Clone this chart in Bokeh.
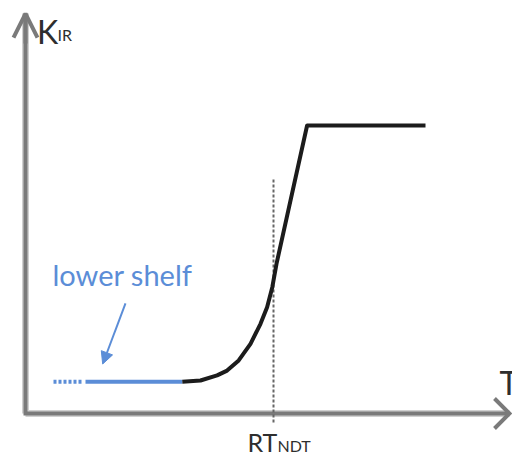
from bokeh.plotting import figure
from bokeh.models import Range1d, Label, Arrow, OpenHead, NormalHead
from bokeh.embed import file_html
from bokeh.resources import INLINE

# ---- data (schematic units: T along x, K_IR along y) ----
shelf_dash_T = [7.0, 14.5]
shelf_dash_K = [10.6, 10.6]
shelf_T = [15.0, 39.2]
shelf_K = [10.6, 10.6]
curve_T = [39.2, 43.75, 47.9, 50.4, 53.3, 56.25, 58.75, 60.4, 61.7, 62.75, 70.4, 100.0]
curve_K = [10.6, 11.0, 12.7, 14.3, 17.7, 23.2, 29.9, 35.4, 42.1, 49.9, 96.0, 96.0]
rt_ndt_T = 62.0
rt_line_K = [78.0, -3.3]
axis_T_max = 121.0
axis_K_max = 133.3

y_label_main, y_label_sub = "K", "IR"
x_label = "T"
rt_label_main, rt_label_sub = "RT", "NDT"
shelf_label = "lower shelf"
pointer_start = (25.0, 36.7)
pointer_end = (19.3, 16.5)

BLUE = "#5b8dd7"
BLACK = "#1c1c1c"
GRAY = "#7a7a7a"
TEXT = "#2e2e2e"
FONT = "Lato"

W, H = 512, 471
p = figure(width=W, height=H, output_backend="svg", toolbar_location=None,
           x_range=Range1d(-6.25, 121.75), y_range=Range1d(-19.33, 137.67),
           min_border=0, outline_line_color=None)
p.axis.visible = False
p.grid.visible = False
p.background_fill_color = "white"

# axes with soft shadow look
p.line([0, 0], [0, axis_K_max], line_color="#d0d0d0", line_width=7)
p.line([0, axis_T_max], [0, 0], line_color="#d0d0d0", line_width=7)
p.line([0, 0, axis_T_max], [axis_K_max, 0, 0], line_color=GRAY, line_width=4, line_join="miter")
p.add_layout(Arrow(end=OpenHead(size=24, line_color=GRAY, line_width=4),
                   x_start=0, y_start=axis_K_max - 10, x_end=0, y_end=axis_K_max,
                   line_color=GRAY, line_width=4))
# x-axis open head (90 degree)
px_T, px_K = 4.0, 3.0  # pixels per unit
arm = 15.0
p.line([axis_T_max - arm / px_T, axis_T_max, axis_T_max - arm / px_T],
       [arm / px_K, 0, -arm / px_K], line_color=GRAY, line_width=4, line_join="miter")

# RT_NDT dotted line
p.line([rt_ndt_T, rt_ndt_T], rt_line_K, line_color="#666666", line_width=2, line_dash="3 2")

# lower shelf
p.line(shelf_dash_T, shelf_dash_K, line_color=BLUE, line_width=4, line_dash="3 2")
p.line(shelf_T, shelf_K, line_color=BLUE, line_width=4)
p.line(curve_T, curve_K, line_color=BLACK, line_width=4, line_join="round")

p.add_layout(Arrow(end=NormalHead(size=12, fill_color=BLUE, line_color=BLUE),
                   x_start=pointer_start[0], y_start=pointer_start[1],
                   x_end=pointer_end[0], y_end=pointer_end[1],
                   line_color=BLUE, line_width=2))

def lab(x, y, t, size, color=TEXT):
    p.add_layout(Label(x=x, y=y, text=t, text_font=FONT, text_font_size=f"{size}px",
                       text_color=color, text_baseline="alphabetic", text_align="left"))

lab(6.75, 46.2, shelf_label, 29, BLUE)
lab(2.9, 127.5, y_label_main, 32)
lab(8.0, 126.3, y_label_sub, 16)
lab(55.5, -9.5, rt_label_main, 25)
lab(63.0, -10.7, rt_label_sub, 16)
lab(118.5, 10.5, x_label, 32)

open("out.html", "w").write(file_html(p, INLINE))
